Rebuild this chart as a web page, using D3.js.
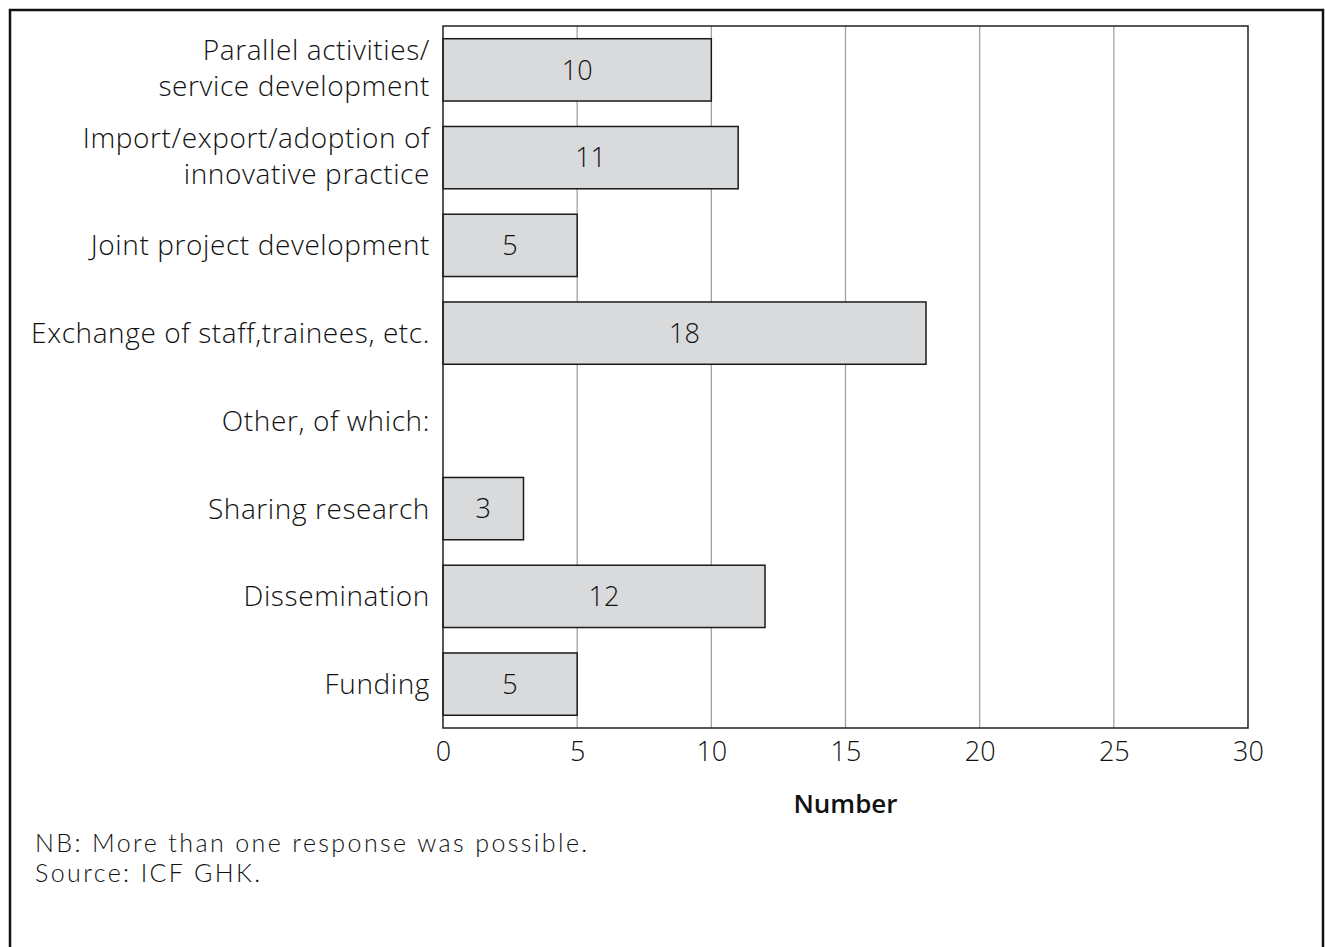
<!DOCTYPE html>
<html>
<head>
<meta charset="utf-8">
<script src="https://cdn.jsdelivr.net/npm/d3@7/dist/d3.min.js"></script>
<style>
  html, body { margin: 0; padding: 0; background: #fff; }
  svg { display: block; }
  text { fill: #111; }
</style>
</head>
<body>
<script>
// Forms of cooperation reported, by number of responses
const categories = [
  "Parallel activities/\nservice development",
  "Import/export/adoption of\ninnovative practice",
  "Joint project development",
  "Exchange of staff,trainees, etc.",
  "Other, of which:",
  "Sharing research",
  "Dissemination",
  "Funding"
];
const values = [10, 11, 5, 18, null, 3, 12, 5];
const xTicks = [0, 5, 10, 15, 20, 25, 30];
const xTitle = "Number";
const notes = [
  "NB: More than one response was possible.",
  "Source: ICF GHK."
];

const W = 1325, H = 947;
const plot = { left: 443, top: 26, right: 1248, bottom: 728 };

const svg = d3.select("body").append("svg")
  .attr("width", W).attr("height", H);

// outer frame
svg.append("rect")
  .attr("x", 10).attr("y", 10)
  .attr("width", 1313).attr("height", 960)
  .attr("fill", "none").attr("stroke", "#111").attr("stroke-width", 2.5);

const x = d3.scaleLinear()
  .domain([xTicks[0], xTicks[xTicks.length - 1]])
  .range([plot.left, plot.right]);

const y = d3.scaleBand()
  .domain(categories)
  .range([plot.top, plot.bottom])
  .paddingInner(0.29)
  .paddingOuter(0.145);

// vertical gridlines
svg.append("g")
  .selectAll("line")
  .data(xTicks.slice(1, -1))
  .join("line")
  .attr("x1", d => x(d)).attr("x2", d => x(d))
  .attr("y1", plot.top).attr("y2", plot.bottom)
  .attr("stroke", "#a3a3a3").attr("stroke-width", 1.3);

// bars
const rows = categories.map((c, i) => ({ c, v: values[i] }));
svg.append("g")
  .selectAll("rect")
  .data(rows.filter(d => d.v != null))
  .join("rect")
  .attr("x", x(0))
  .attr("y", d => y(d.c))
  .attr("width", d => x(d.v) - x(0))
  .attr("height", y.bandwidth())
  .attr("fill", "#d9dadc")
  .attr("stroke", "#1a1a1a")
  .attr("stroke-width", 1.5);

// value labels inside bars
svg.append("g")
  .selectAll("text")
  .data(rows.filter(d => d.v != null))
  .join("text")
  .attr("x", d => x(d.v / 2))
  .attr("y", d => y(d.c) + y.bandwidth() / 2)
  .attr("dy", "0.36em")
  .attr("text-anchor", "middle")
  .style("font-family", "'Open Sans', sans-serif")
  .style("font-weight", 300)
  .style("font-size", "27px")
  .text(d => d.v);

// plot frame
svg.append("rect")
  .attr("x", plot.left).attr("y", plot.top)
  .attr("width", plot.right - plot.left)
  .attr("height", plot.bottom - plot.top)
  .attr("fill", "none").attr("stroke", "#222").attr("stroke-width", 1.5);

// category labels
const lineH = 36;
const catG = svg.append("g")
  .style("font-family", "'Open Sans', sans-serif")
  .style("font-weight", 300)
  .style("font-size", "28px")
  .style("letter-spacing", "0.6px")
  .attr("text-anchor", "end");
rows.forEach(d => {
  const lines = d.c.split("\n");
  const cy = y(d.c) + y.bandwidth() / 2 - (lines.length > 1 ? 2 : 0);
  const t = catG.append("text")
    .attr("x", plot.left - 13)
    .attr("y", cy - (lines.length - 1) * lineH / 2);
  lines.forEach((ln, k) => {
    t.append("tspan")
      .attr("x", plot.left - 13)
      .attr("dy", k === 0 ? "0.36em" : lineH)
      .text(ln);
  });
});

// x axis labels
const xAxis = d3.axisBottom(x).tickValues(xTicks).tickSize(0).tickPadding(14);
const gx = svg.append("g")
  .attr("transform", `translate(0,${plot.bottom})`)
  .call(xAxis);
gx.select(".domain").remove();
gx.selectAll("text")
  .style("font-family", "'Open Sans', sans-serif")
  .style("font-weight", 300)
  .style("font-size", "27px")
  .attr("fill", "#111");

svg.append("text")
  .attr("x", (plot.left + plot.right) / 2)
  .attr("y", 813)
  .attr("text-anchor", "middle")
  .style("font-family", "'Open Sans', sans-serif")
  .style("font-weight", 600)
  .style("font-size", "26px")
  .text(xTitle);

// notes
svg.append("g")
  .selectAll("text")
  .data(notes)
  .join("text")
  .attr("x", 35)
  .attr("y", (d, i) => 852 + i * 30)
  .style("font-family", "Lato, sans-serif")
  .style("font-weight", 300)
  .style("font-size", "25px")
  .style("letter-spacing", "2.4px")
  .text(d => d);
</script>
</body>
</html>
